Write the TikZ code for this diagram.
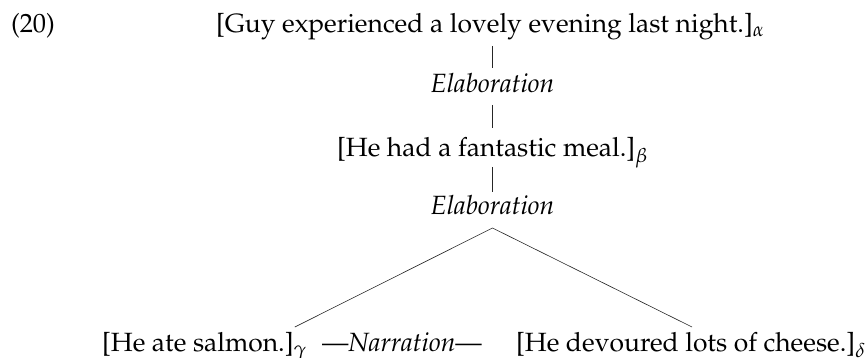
\documentclass[tikz,border=0pt]{standalone}
\usepackage[T1]{fontenc}
\usepackage{mathpazo}
\begin{document}
\begin{tikzpicture}[x=1pt, y=-1pt,
  every node/.style={inner sep=0pt, outer sep=0pt, font=\fontsize{26.4}{31}\selectfont},
  seg/.style={anchor=base west},
  rel/.style={anchor=base, font=\fontsize{26.4}{31}\selectfont\itshape},
  link/.style={line width=0.6pt, black!85}]
  \useasboundingbox (0,0) rectangle (868,358);

  % example number
  \node[seg] (num) at (11,33) {(20)};

  % discourse segments
  \node[seg] (sa) at (216,33) {[Guy experienced a lovely evening last night.]$_\alpha$};
  \node[rel] (e1) at (492.5,93) {Elaboration};
  \node[seg] (sb) at (337,157) {[He had a fantastic meal.]$_\beta$};
  \node[rel] (e2) at (492.5,215) {Elaboration};
  \node[seg] (sg) at (102,352) {[He ate salmon.]$_\gamma$};
  \node[seg] (nr) at (322,352) {---\textit{Narration}---};
  \node[seg] (sd) at (516,352) {[He devoured lots of cheese.]$_\delta$};

  % vertical attachments
  \draw[link] ([yshift=-13pt]sa.base -| e1.base) -- ([yshift=25pt]e1.base);
  \draw[link] ([yshift=-12pt]e1.base) -- ([yshift=29pt]sb.base -| e1.base);
  \draw[link] ([yshift=-10pt]sb.base -| e2.base) -- ([yshift=23pt]e2.base);

  % branching to the narrated pair
  \coordinate (apex) at ([yshift=-13pt]e2.base);
  \draw[link] ([xshift=-12pt,yshift=25pt]sg.base east) -- (apex)
              -- ([xshift=176pt,yshift=25pt]sd.base west);
\end{tikzpicture}
\end{document}
